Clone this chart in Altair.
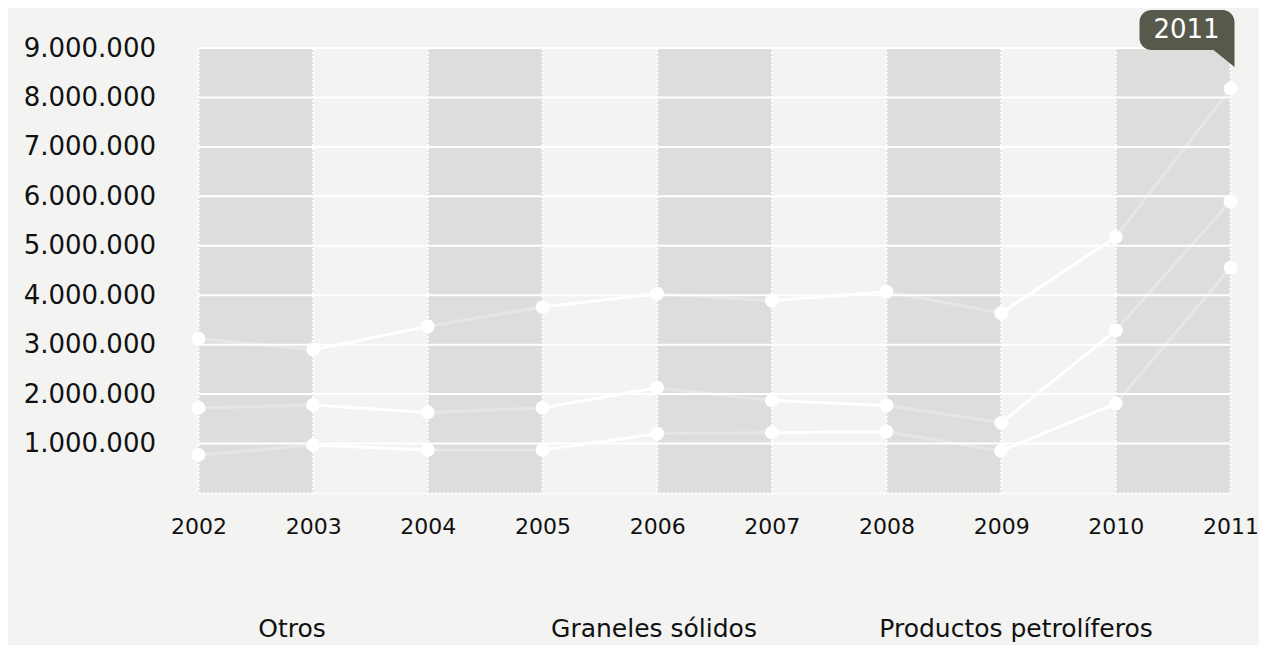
import altair as alt
import pandas as pd

# ---- data ----
years = [2002, 2003, 2004, 2005, 2006, 2007, 2008, 2009, 2010, 2011]
series_names = ["Otros", "Graneles sólidos", "Productos petrolíferos"]
productos = [3120000, 2900000, 3370000, 3760000, 4030000, 3890000, 4070000, 3640000, 5180000, 8180000]
graneles = [1720000, 1780000, 1630000, 1720000, 2130000, 1870000, 1770000, 1420000, 3290000, 5900000]
otros = [770000, 970000, 870000, 870000, 1200000, 1220000, 1240000, 850000, 1810000, 4560000]
band_starts = [2002, 2004, 2006, 2008, 2010]
band_ends = [2003, 2005, 2007, 2009, 2011]
grid_values = [1000000, 2000000, 3000000, 4000000, 5000000,
               6000000, 7000000, 8000000, 9000000]
y_max = 9000000
highlight_year = [2011]
highlight_label = ["2011"]

rows = []
for name, vals in zip(series_names, [otros, graneles, productos]):
    for yr, v in zip(years, vals):
        rows.append({"year": yr, "value": v, "serie": name})
df = pd.DataFrame(rows)
bands = pd.DataFrame({"start": band_starts, "end": band_ends})
grid = pd.DataFrame({"v": grid_values})
yrs = pd.DataFrame({"year": years})
tip = pd.DataFrame({"year": highlight_year, "label": highlight_label, "top": [y_max]})

FONT = "DejaVu Sans"
xscale = alt.Scale(domain=[years[0], years[-1]], nice=False, zero=False)
yscale = alt.Scale(domain=[0, y_max], nice=False, zero=True)

x_axis = alt.Axis(values=years, format="d", title=None, labelFont=FONT, labelFontSize=22,
                  labelColor="#111111", labelPadding=23, ticks=False, tickSize=0, grid=False,
                  domainColor="white", domainDash=[2, 2], domainWidth=2, labelFlush=False,
                  zindex=1)
y_axis = alt.Axis(values=grid_values, title=None, labelFont=FONT, labelFontSize=26,
                  labelColor="#111111", labelPadding=43, ticks=False, tickSize=0, grid=False,
                  domain=False, labelFlush=False, zindex=1,
                  labelExpr="replace(replace(format(datum.value, ',d'), ',', '.'), ',', '.')")

lines = alt.Chart(df).mark_line(strokeWidth=3, color="white").encode(
    x=alt.X("year:Q", scale=xscale, axis=x_axis),
    y=alt.Y("value:Q", scale=yscale, axis=y_axis),
    color=alt.Color("serie:N",
                    scale=alt.Scale(domain=series_names, range=["#ffffff"] * 3),
                    legend=alt.Legend(orient="none", legendX=-71.5, legendY=568,
                                      direction="horizontal", title=None,
                                      labelAlign="center", labelOffset=140,
                                      labelFont=FONT, labelFontSize=25,
                                      labelColor="#111111", labelLimit=400,
                                      symbolType="circle", symbolSize=4,
                                      symbolOpacity=0, symbolStrokeWidth=0,
                                      gridAlign="all", columnPadding=60, padding=0)),
    detail="serie:N",
)

# translucent grey columns laid over the lines
band_layer = alt.Chart(bands).mark_rect(color="#9c9c9c", opacity=0.25).encode(
    x=alt.X("start:Q", scale=xscale, axis=x_axis),
    x2="end:Q",
)

hgrid = alt.Chart(grid).mark_rule(color="white", strokeWidth=2).encode(
    y=alt.Y("v:Q", scale=yscale, axis=y_axis)
)

vgrid = alt.Chart(yrs).mark_rule(color="white", strokeWidth=2, strokeDash=[2, 2]).encode(
    x=alt.X("year:Q", scale=xscale, axis=x_axis)
)

points = alt.Chart(df).mark_circle(size=190, color="white", opacity=1).encode(
    x=alt.X("year:Q", scale=xscale, axis=x_axis),
    y=alt.Y("value:Q", scale=yscale, axis=y_axis),
)

bubble_path = ("M -79 -38 L -8 -38 A 12 12 0 0 1 4 -26 L 4 19 L -17 2 L -79 2 "
               "A 12 12 0 0 1 -91 -10 L -91 -26 A 12 12 0 0 1 -79 -38 Z")
tip_shape = alt.Chart(tip).mark_point(shape=bubble_path, size=4, filled=True,
                                      color="#575a4b", opacity=1, strokeWidth=0).encode(
    x=alt.X("year:Q", scale=xscale, axis=x_axis),
    y=alt.Y("top:Q", scale=yscale, axis=y_axis),
)
tip_text = alt.Chart(tip).mark_text(dx=-44, dy=-18, font=FONT, fontSize=26, color="white",
                                    align="center", baseline="middle").encode(
    x=alt.X("year:Q", scale=xscale, axis=x_axis),
    y=alt.Y("top:Q", scale=yscale, axis=y_axis),
    text="label:N",
)

chart = alt.layer(lines, band_layer, hgrid, vgrid, points, tip_shape, tip_text).properties(
    width=1032, height=445,
    autosize=alt.AutoSizeParams(type="none"),
    padding={"left": 190.5, "top": 40, "right": 28, "bottom": 160},
    background="#f3f3f2",
).configure_view(stroke=None)

chart.save("out.html", embed_options={"renderer": "svg", "actions": False})
